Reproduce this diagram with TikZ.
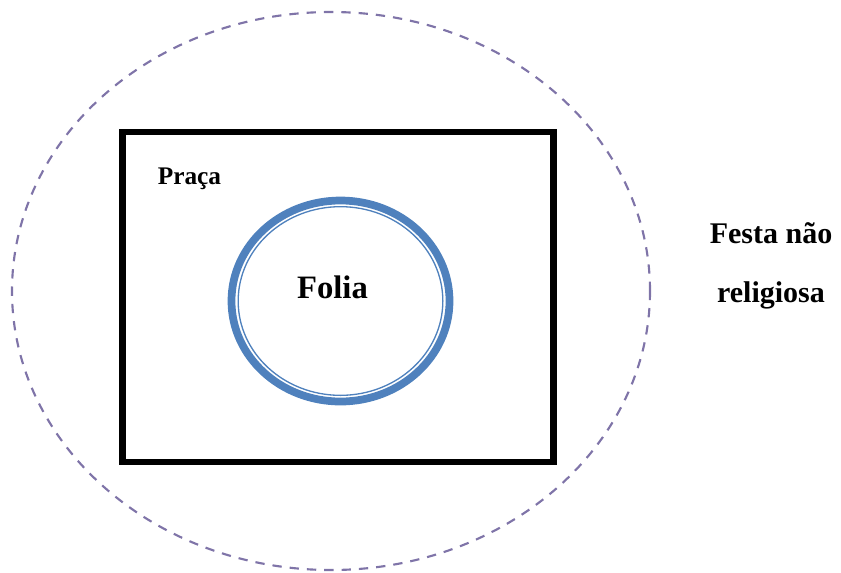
\documentclass[tikz,border=0pt]{standalone}
\usepackage{fontspec}
\setmainfont{Liberation Serif}
\usetikzlibrary{shapes.geometric}
\definecolor{lilac}{HTML}{7F74A8}
\definecolor{folia}{HTML}{4F81BD}
\tikzset{
  outer/.style={ellipse,draw=lilac,line width=1.6pt,dash pattern=on 7pt off 6pt,
                minimum width=478.5pt,minimum height=418.5pt,inner sep=0pt},
  square/.style={rectangle,draw=black,line width=4.8pt,
                 minimum width=323.25pt,minimum height=247.5pt,inner sep=0pt},
  ring/.style={ellipse,draw=folia,inner sep=0pt},
  word/.style={font=\bfseries\fontsize{19}{22}\selectfont,anchor=base,inner sep=0pt},
  title/.style={word,font=\bfseries\fontsize{24.5}{28}\selectfont},
  side/.style={word,font=\bfseries\fontsize{22.5}{26}\selectfont},
}
\begin{document}
\begin{tikzpicture}[x=0.75pt,y=-0.75pt]
    \useasboundingbox (0,0) rectangle (841,572);
    \node[outer] (festa) at (331,291) {};
    \node[square] (praca) at (338,297) {};
    \node[ring,line width=5.8pt,minimum width=163.5pt,minimum height=150.75pt]
      (folia) at (340.5,301) {};
    \node[ring,line width=1pt,minimum width=153.5pt,minimum height=141.5pt]
      (foliain) at (340.5,301) {};
    \node[word] (pracalabel) at (189.5,184) {Praça};
    \node[title] (folialabel) at (332.5,298) {Folia};
    \node[side] (festalabel) at (771,243) {Festa não};
    \node[side] (religlabel) at (771,302) {religiosa};
  \end{tikzpicture}
\end{document}
